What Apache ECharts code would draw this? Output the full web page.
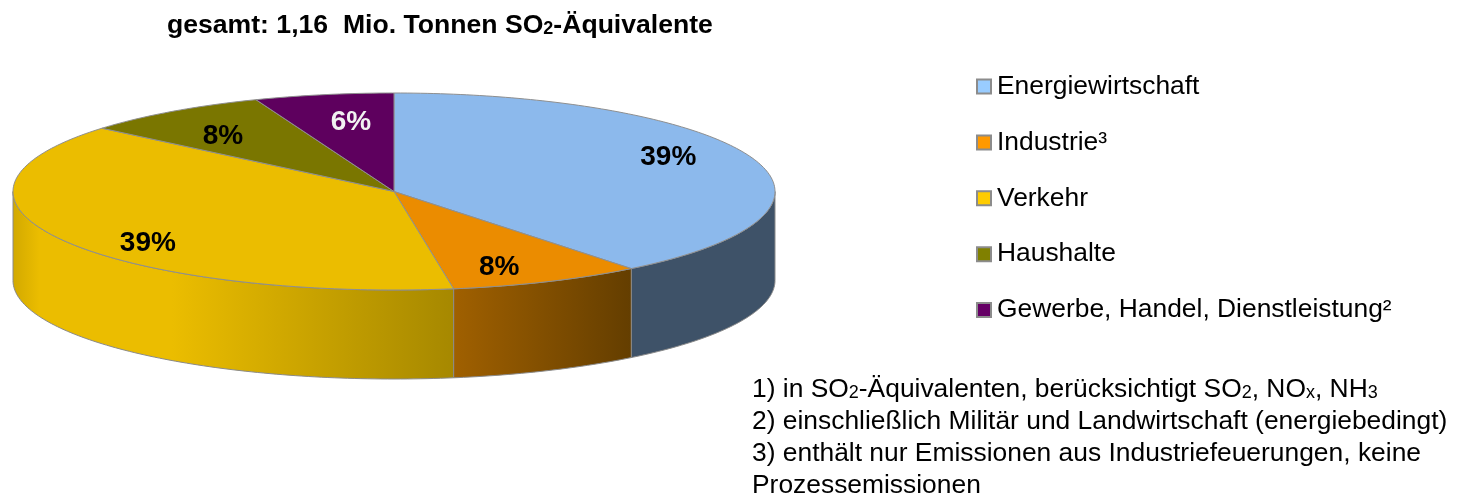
<!DOCTYPE html>
<html>
<head>
<meta charset="utf-8">
<title>SO2-Äquivalente</title>
<style>
html,body{margin:0;padding:0;background:#fff;}
#main{width:1468px;height:495px;}
</style>
<script src="https://cdn.jsdelivr.net/npm/echarts@6/dist/echarts.min.js"></script>
</head>
<body>
<div id="main"></div>
<script>
var categories = ['Energiewirtschaft', 'Industrie³', 'Verkehr', 'Haushalte', 'Gewerbe, Handel, Dienstleistung²'];
var shares = [39.3, 8.2, 38.6, 8.0, 5.9];
var footnotes = [
    '{t|1) in SO}{s|2}{t|-Äquivalenten, berücksichtigt SO}{s|2}{t|, NO}{s|x}{t|, NH}{s|3}',
    '{t|2) einschließlich Militär und Landwirtschaft (energiebedingt)}',
    '{t|3) enthält nur Emissionen aus Industriefeuerungen, keine}',
    '{t|Prozessemissionen}'
];

var legendColor = ['#99ccff', '#ff9900', '#ffcc00', '#808000', '#660066'];
var topColor = ['#8cb9ec', '#eb8c00', '#ebbd00', '#7a7600', '#5e005e'];
var labelColor = ['#000', '#000', '#000', '#000', '#f2f2f2'];

// geometry of the tilted disc
var cx = 394, cy = 191.5, rx = 381, ry = 98.5, depth = 89;
// label anchor relative to the ellipse radii
var labelAnchor = [[0.72, -0.35], [0.276, 0.765], [-0.646, 0.525], [-0.449, -0.56], [-0.113, -0.70]];

function sideFill(i) {
    if (i == 0) return '#3e5268';
    if (i == 1) {
        return {type: 'linear', global: true, x: 454, y: 0, x2: 631, y2: 0,
            colorStops: [{offset: 0, color: '#a06000'}, {offset: 1, color: '#643e00'}]};
    }
    return {type: 'linear', global: true, x: 13, y: 0, x2: 454, y2: 0,
        colorStops: [
            {offset: 0, color: '#d2a900'}, {offset: 0.06, color: '#ebbd00'},
            {offset: 0.36, color: '#ebbd00'}, {offset: 1, color: '#a68800'}
        ]};
}

function px(deg) {
    return cx + rx * Math.sin(deg * Math.PI / 180);
}
function py(deg) {
    return cy - ry * Math.cos(deg * Math.PI / 180);
}
function arc(a, b) {
    var pts = [];
    for (var d = a; d < b; d += 1) {
        pts.push([px(d), py(d)]);
    }
    pts.push([px(b), py(b)]);
    return pts;
}

function renderSlice(i) {
    return function (params, api) {
        var total = 0, before = 0;
        for (var k = 0; k < shares.length; k++) {
            if (k < i) before += shares[k];
            total += shares[k];
        }
        var a = before / total * 360;
        var b = (before + api.value(0)) / total * 360;
        var children = [];
        // outer wall, only the front half of the disc is visible
        var sa = Math.max(a, 90), sb = Math.min(b, 270);
        if (sa < sb) {
            var upper = arc(sa, sb);
            var lower = upper.map(function (p) { return [p[0], p[1] + depth]; }).reverse();
            children.push({
                type: 'polygon',
                shape: {points: upper.concat(lower)},
                style: {fill: sideFill(i), stroke: '#8a8a8a', lineWidth: 1}
            });
        }
        children.push({
            type: 'polygon',
            shape: {points: [[cx, cy]].concat(arc(a, b))},
            style: {fill: topColor[i], stroke: '#8f8f8f', lineWidth: 1}
        });
        children.push({
            type: 'text',
            style: {
                x: cx + labelAnchor[i][0] * rx,
                y: cy + labelAnchor[i][1] * ry,
                text: Math.round(api.value(0)) + '%',
                fill: labelColor[i],
                font: 'bold 28px "Liberation Sans", Arial, sans-serif',
                align: 'center',
                verticalAlign: 'middle'
            }
        });
        return {type: 'group', children: children};
    };
}

var series = [];
for (var i = 0; i < categories.length; i++) {
    series.push({
        name: categories[i],
        type: 'custom',
        coordinateSystem: 'none',
        renderItem: renderSlice(i),
        silent: true,
        animation: false,
        itemStyle: {color: legendColor[i], borderColor: '#8c8c8c', borderWidth: 1},
        data: [[shares[i]]]
    });
}

var option = {
    backgroundColor: '#fff',
    animation: false,
    title: [{
        left: 167,
        top: 12,
        padding: 0,
        text: '{b|gesamt: 1,16  Mio. Tonnen SO}{c|2}{b|-Äquivalente}',
        textStyle: {
            rich: {
                b: {fontFamily: 'Liberation Sans', fontSize: 26.6, fontWeight: 'bold', color: '#000', lineHeight: 28},
                c: {fontFamily: 'Liberation Sans', fontSize: 18, fontWeight: 'bold', color: '#000', height: 22, verticalAlign: 'bottom'}
            }
        }
    }, {
        left: 752,
        top: 374,
        padding: 0,
        text: footnotes.join('\n'),
        textStyle: {
            fontWeight: 'normal',
            rich: {
                t: {fontFamily: 'Liberation Sans', fontSize: 26.4, fontWeight: 'normal', color: '#000', lineHeight: 32},
                s: {fontFamily: 'Liberation Sans', fontSize: 18, fontWeight: 'normal', color: '#000', height: 26, verticalAlign: 'bottom'}
            }
        }
    }],
    legend: {
        orient: 'vertical',
        left: 976,
        top: 73.5,
        padding: 0,
        itemWidth: 14,
        itemHeight: 14,
        itemGap: 29.9,
        selectedMode: false,
        icon: 'rect',
        textStyle: {fontFamily: 'Liberation Sans', fontSize: 26.4, color: '#000', padding: [0, 0, 0, 1]},
        data: categories
    },
    series: series
};

var chart = echarts.init(document.getElementById('main'), null, {renderer: 'canvas'});
chart.setOption(option);
</script>
</body>
</html>
